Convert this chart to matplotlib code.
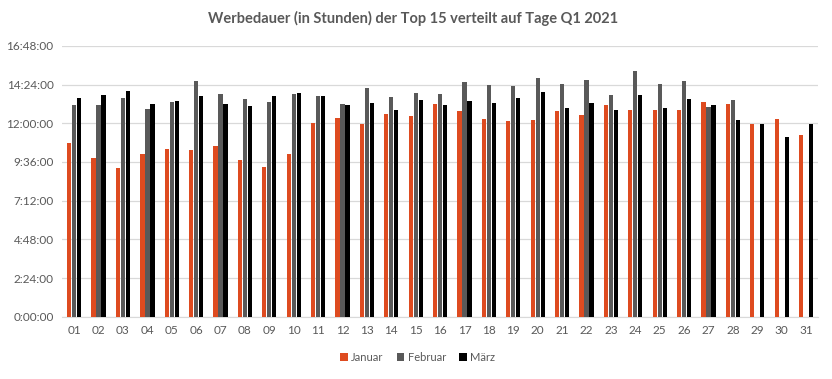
import numpy as np
import matplotlib
matplotlib.use("Agg")
import matplotlib.pyplot as plt
from matplotlib.ticker import FuncFormatter, MultipleLocator

# daily ad duration in hours
tage = ["%02d" % d for d in range(1, 32)]
januar = [10.77, 9.86, 9.24, 10.11, 10.42, 10.35, 10.60, 9.73, 9.30, 10.08,
          12.01, 12.32, 11.94, 12.56, 12.44, 13.18, 12.75, 12.25, 12.13, 12.19,
          12.75, 12.50, 13.12, 12.81, 12.81, 12.81, 13.31, 13.18, 11.94, 12.25, 11.26]
februar = [13.12, 13.12, 13.56, 12.87, 13.31, 14.61, 13.80, 13.49, 13.31, 13.80,
           13.68, 13.18, 14.18, 13.62, 13.87, 13.80, 14.55, 14.36, 14.30, 14.80,
           14.42, 14.67, 13.74, 15.23, 14.42, 14.61, 13.00, 13.43]
maerz = [13.56, 13.76, 13.99, 13.18, 13.37, 13.68, 13.18, 13.06, 13.68, 13.87,
         13.68, 13.12, 13.25, 12.81, 13.43, 13.12, 13.37, 13.25, 13.56, 13.93,
         12.94, 13.25, 12.81, 13.74, 12.94, 13.49, 13.12, 12.19, 11.94, 11.14, 11.94]

plt.rcParams['font.family'] = ['Lato', 'DejaVu Sans']
textcolor = '#595959'

fig = plt.figure(figsize=(8.32, 3.79), dpi=100)
ax = fig.add_axes([0.0745, 0.164, 0.909, 0.715])

x = np.arange(len(tage))
w = 0.175
off = 0.205
ax.bar(x[:len(januar)] - off, januar, w, color='#DE4B20', label='Januar', zorder=3)
ax.bar(x[:len(februar)], februar, w, color='#595959', label='Februar', zorder=3)
ax.bar(x[:len(maerz)] + off, maerz, w, color='#000000', label='März', zorder=3)

ax.set_xlim(-0.5, len(tage) - 0.5)
ax.set_ylim(0, 16.8)
ax.yaxis.set_major_locator(MultipleLocator(2.4))
ax.yaxis.set_major_formatter(FuncFormatter(
    lambda v, p: "%d:%02d:00" % (int(round(v * 60)) // 60, int(round(v * 60)) % 60)))
ax.set_xticks(x)
ax.set_xticklabels(tage)
ax.grid(axis='y', color='#D9D9D9', linewidth=0.9, zorder=0)
for s in ['top', 'right', 'left']:
    ax.spines[s].set_visible(False)
ax.spines['bottom'].set_color('#D9D9D9')
ax.tick_params(length=0, labelsize=8.5, colors=textcolor, pad=6)

fig.suptitle('Werbedauer (in Stunden) der Top 15 verteilt auf Tage Q1 2021',
             x=0.497, y=0.97, fontsize=10.5, fontweight='bold', color=textcolor)
fig.legend(loc='center', bbox_to_anchor=(0.502, 0.058), ncol=3, frameon=False,
           fontsize=8, labelcolor=textcolor, handlelength=0.7, handleheight=0.7,
           handletextpad=0.3, columnspacing=1.2)

fig.savefig('out.png', dpi=100)
